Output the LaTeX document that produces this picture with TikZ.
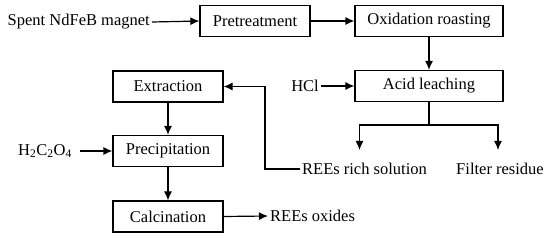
\documentclass[tikz,border=0pt]{standalone}
\usepackage{fontspec}
\setmainfont{Liberation Serif}
\usepackage{tikz}
\usetikzlibrary{positioning,arrows.meta,calc}

\begin{document}
\begin{tikzpicture}[
    x=1pt, y=-1pt,
    every node/.style={font=\fontsize{16.5}{19}\selectfont},
    procbox/.style={draw=black, line width=1.2pt, rectangle, inner sep=2pt,
                    minimum height=31pt, minimum width=110pt, align=center},
    widebox/.style={procbox, minimum width=148pt},
    plain/.style={inner sep=2pt, align=center},
    flow/.style={-{Latex[length=9pt,width=8pt]}, line width=1.2pt, color=black},
    feed/.style={line width=1.2pt, color=black}
]
\useasboundingbox (0,0) rectangle (550,238);

% --- Main route: magnet to leaching ---
\node[plain, anchor=east] (magnet) at (152,22) {Spent NdFeB magnet};
\node[procbox] (pretreat) at (255,21) {Pretreatment};
\node[widebox] (roast) at (429,21) {Oxidation roasting};
\node[widebox] (leach) at (429,86) {Acid leaching};
\node[plain, anchor=east] (hcl) at (321,86) {HCl};

\draw[flow] (magnet.east) -- (pretreat.west);
\draw[flow] (pretreat.east) -- (roast.west);
\draw[flow] (roast.south) -- (leach.north);
\draw[flow] (hcl.east) -- (leach.west);

% --- Leaching products ---
\node[plain, anchor=west] (rich) at (300,169) {REEs rich solution};
\node[plain] (residue) at (500,169) {Filter residue};

\draw[feed] (leach.south) -- ++(0,23) coordinate (split);
\draw[flow, shorten >=11pt] (split) -| ([xshift=-5pt]rich.north);
\draw[flow, shorten >=11pt] (split) -| ([xshift=-2pt]residue.north);

% --- Recovery route ---
\node[procbox] (extract) at (168,86.5) {Extraction};
\node[procbox] (precip) at (168,151) {Precipitation};
\node[procbox] (calcine) at (168,216.5) {Calcination};
\node[plain, anchor=east] (oxalic) at (74,151) {H\textsubscript{2}C\textsubscript{2}O\textsubscript{4}};
\node[plain, anchor=west] (oxides) at (268,216) {REEs oxides};

\draw[flow] (rich.west) -- ++(-35,0) |- (extract.east);
\draw[flow] (extract.south) -- (precip.north);
\draw[flow] ([xshift=6pt]oxalic.east) -- (precip.west);
\draw[flow] (precip.south) -- (calcine.north);
\draw[flow] (calcine.east) -- (oxides.west);

\end{tikzpicture}
\end{document}
